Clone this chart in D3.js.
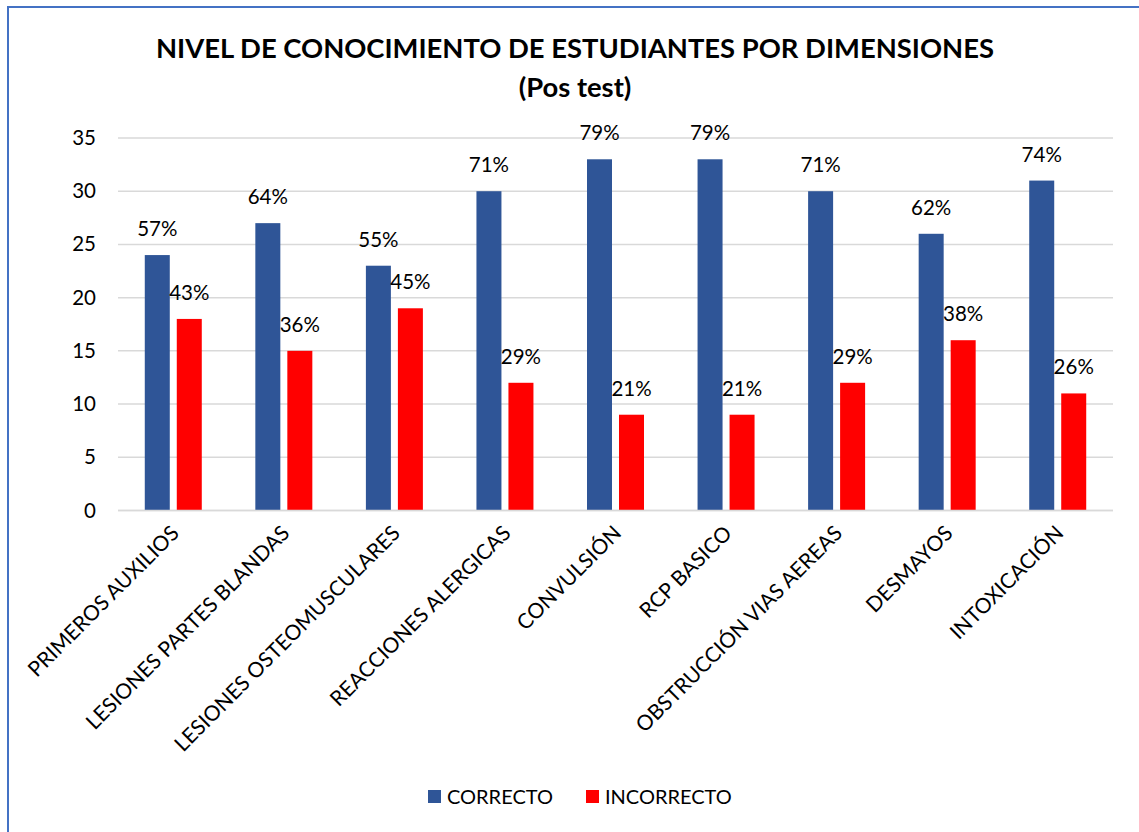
<!DOCTYPE html>
<html>
<head>
<meta charset="utf-8">
<script src="https://cdn.jsdelivr.net/npm/d3@7"></script>
<style>
  html, body { margin: 0; padding: 0; background: #fff; }
  svg text { font-family: Lato, "Noto Sans", sans-serif; }
</style>
</head>
<body>
<div id="chart"></div>
<script>
// chart data
const categories = ['PRIMEROS AUXILIOS', 'LESIONES PARTES BLANDAS', 'LESIONES OSTEOMUSCULARES',
    'REACCIONES ALERGICAS', 'CONVULSIÓN', 'RCP BASICO', 'OBSTRUCCIÓN VIAS AEREAS', 'DESMAYOS', 'INTOXICACIÓN'];
const correcto = [24, 27, 23, 30, 33, 33, 30, 26, 31];
const incorrecto = [18, 15, 19, 12, 9, 9, 12, 16, 11];
const correctoPct = ['57%', '64%', '55%', '71%', '79%', '79%', '71%', '62%', '74%'];
const incorrectoPct = ['43%', '36%', '45%', '29%', '21%', '21%', '29%', '38%', '26%'];
const yTicks = [0, 5, 10, 15, 20, 25, 30, 35];
const seriesNames = ['CORRECTO', 'INCORRECTO'];

const width = 1139, height = 832;
const colors = ['#2F5597', '#FF0000'];

const svg = d3.select('#chart')
    .append('svg')
    .attr('width', width)
    .attr('height', height);

// outer border (cut off at right and bottom like the source picture)
svg.append('rect')
    .attr('x', 8)
    .attr('y', 7)
    .attr('width', width + 20)
    .attr('height', height + 20)
    .attr('fill', 'none')
    .attr('stroke', '#4472C4')
    .attr('stroke-width', 2);

// title
svg.append('text')
    .attr('x', 575)
    .attr('y', 58)
    .attr('text-anchor', 'middle')
    .style('font-size', '27.4px')
    .style('font-weight', 'bold')
    .text('NIVEL DE CONOCIMIENTO DE ESTUDIANTES POR DIMENSIONES');

svg.append('text')
    .attr('x', 575)
    .attr('y', 97)
    .attr('text-anchor', 'middle')
    .style('font-size', '27.4px')
    .style('font-weight', 'bold')
    .text('(Pos test)');

const plot = { left: 118, right: 1113, top: 138, bottom: 510.5 };

const x = d3.scaleBand()
    .domain(categories)
    .range([plot.left, plot.right]);

const y = d3.scaleLinear()
    .domain([0, 35])
    .range([plot.bottom, plot.top]);

const barW = 25, gap = 7;

// gridlines
svg.append('g')
    .selectAll('line')
    .data(yTicks)
    .join('line')
    .attr('x1', plot.left)
    .attr('x2', plot.right)
    .attr('y1', d => y(d))
    .attr('y2', d => y(d))
    .attr('stroke', '#d9d9d9')
    .attr('stroke-width', 1.5);

// y axis labels
const yAxis = svg.append('g')
    .attr('transform', `translate(${plot.left - 22},0)`)
    .call(d3.axisLeft(y).tickValues(yTicks).tickSize(0).tickPadding(0));
yAxis.select('.domain').remove();
yAxis.selectAll('text')
    .style('font-size', '20.5px')
    .style('font-family', 'Lato, "Noto Sans", sans-serif')
    .attr('fill', '#000');

// bars
const series = [correcto, incorrecto];
const pcts = [correctoPct, incorrectoPct];
series.forEach((vals, s) => {
    const offset = s === 0 ? -(barW + gap / 2) : gap / 2;
    const cx = (d, i) => x(categories[i]) + x.bandwidth() / 2 + offset;

    svg.append('g')
        .selectAll('rect')
        .data(vals)
        .join('rect')
        .attr('x', (d, i) => cx(d, i))
        .attr('y', d => y(d))
        .attr('width', barW)
        .attr('height', d => y(0) - y(d))
        .attr('fill', colors[s]);

    svg.append('g')
        .selectAll('text')
        .data(vals)
        .join('text')
        .attr('x', (d, i) => cx(d, i) + barW / 2)
        .attr('y', d => y(d) - 19)
        .attr('text-anchor', 'middle')
        .style('font-size', '20.5px')
        .attr('fill', '#000')
        .text((d, i) => pcts[s][i]);
});

// baseline
svg.append('line')
    .attr('x1', plot.left)
    .attr('x2', plot.right)
    .attr('y1', y(0))
    .attr('y2', y(0))
    .attr('stroke', '#d9d9d9')
    .attr('stroke-width', 1.5);

// category labels
svg.append('g')
    .selectAll('text')
    .data(categories)
    .join('text')
    .attr('text-anchor', 'end')
    .attr('transform', d => `translate(${x(d) + x.bandwidth() / 2 + 7},${plot.bottom + 24}) rotate(-45)`)
    .style('font-size', '21px')
    .attr('fill', '#000')
    .text(d => d);

// legend
const legendX = [428, 586];
seriesNames.forEach((name, i) => {
    const lg = svg.append('g')
        .attr('transform', `translate(${legendX[i]},790)`);
    lg.append('rect')
        .attr('width', 13)
        .attr('height', 13)
        .attr('fill', colors[i]);
    lg.append('text')
        .attr('x', 19)
        .attr('y', 14)
        .style('font-size', '20px')
        .attr('fill', '#000')
        .text(name);
});
</script>
</body>
</html>
